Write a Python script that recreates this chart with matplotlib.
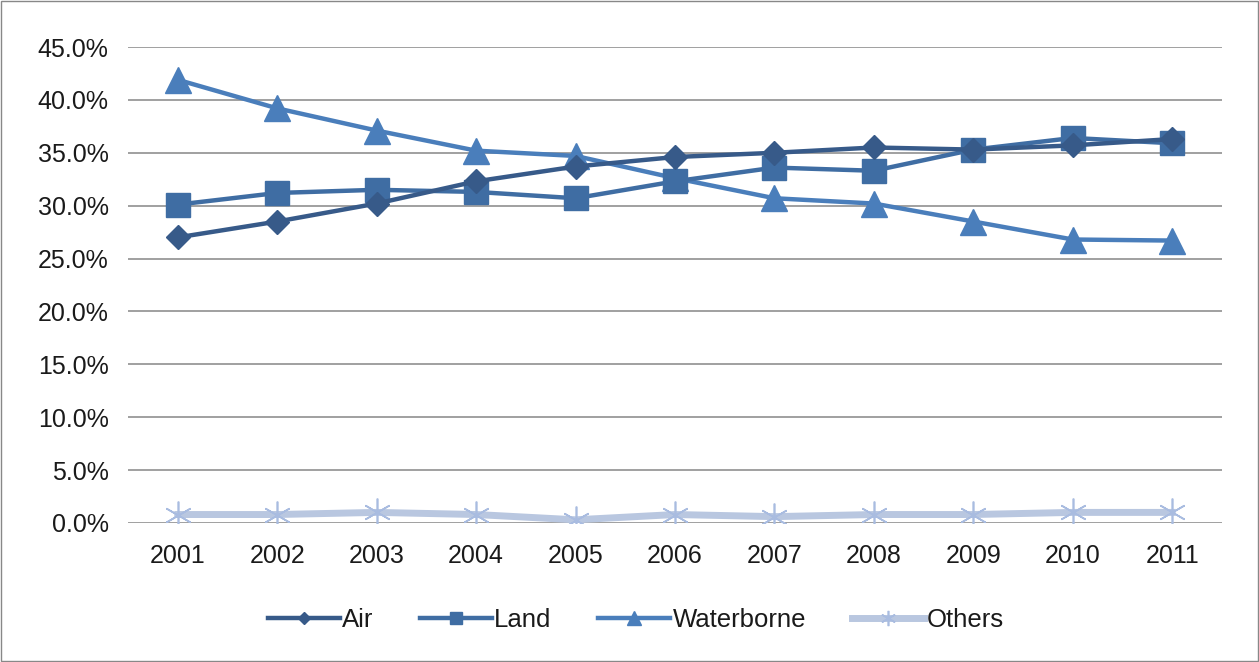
import matplotlib.pyplot as plt
import matplotlib as mpl
from matplotlib.patches import Rectangle
from matplotlib.ticker import FuncFormatter

mpl.rcParams['font.family'] = ['Liberation Sans', 'DejaVu Sans']

years = ['2001', '2002', '2003', '2004', '2005', '2006',
         '2007', '2008', '2009', '2010', '2011']
air = [27.0, 28.5, 30.2, 32.3, 33.7, 34.6, 35.0, 35.5, 35.3, 35.7, 36.3]
land = [30.1, 31.2, 31.5, 31.3, 30.7, 32.3, 33.6, 33.3, 35.3, 36.4, 35.9]
waterborne = [41.9, 39.2, 37.1, 35.2, 34.7, 32.6, 30.7, 30.2, 28.5, 26.8, 26.7]
others = [0.8, 0.8, 1.0, 0.8, 0.3, 0.8, 0.6, 0.8, 0.8, 1.0, 1.0]

fig = plt.figure(figsize=(12.59, 6.62), dpi=100)
ax = fig.add_axes([0.1017, 0.21, 0.8689, 0.719])

x = list(range(len(years)))
ax.plot(x, others, color='#B9C7E0', lw=5, marker=(6, 2, 0), ms=20,
        mew=1.2, mec='#A9BCE0', label='Others', zorder=3)
ax.plot(x, waterborne, color='#4A7EBB', lw=3.2, marker='^', ms=19,
        label='Waterborne', zorder=4)
ax.plot(x, land, color='#3F6DA3', lw=3.2, marker='s', ms=17,
        label='Land', zorder=5)
ax.plot(x, air, color='#375A89', lw=3.2, marker='D', ms=12,
        label='Air', zorder=6)

ax.set_xlim(-0.5, 10.5)
ax.set_ylim(0, 45)
ax.set_yticks([i * 5 for i in range(10)])
ax.yaxis.set_major_formatter(FuncFormatter(lambda v, p: '%.1f%%' % v))
ax.set_xticks(x)
ax.set_xticklabels(years)
ax.grid(axis='y', color='#A0A0A0', lw=1.4)
ax.set_axisbelow(True)
for s in ['top', 'right', 'left', 'bottom']:
    ax.spines[s].set_visible(False)
ax.tick_params(axis='both', length=0, labelsize=18, colors='#1a1a1a')
ax.tick_params(axis='x', pad=15)
ax.tick_params(axis='y', pad=14)

h, l = ax.get_legend_handles_labels()
order = [3, 2, 1, 0]
leg = fig.legend([h[i] for i in order], [l[i] for i in order],
                 loc='center', bbox_to_anchor=(0.505, 0.063), ncol=4,
                 frameon=False, fontsize=18.5, handlelength=2.8,
                 columnspacing=1.8, handletextpad=0.1, markerscale=0.55)
for t in leg.get_texts():
    t.set_color('#1a1a1a')

fig.patches.append(Rectangle((0.001, 0.002), 0.998, 0.996,
                             transform=fig.transFigure, fill=False,
                             edgecolor='#888888', lw=1))

fig.savefig('out.png', dpi=100)
